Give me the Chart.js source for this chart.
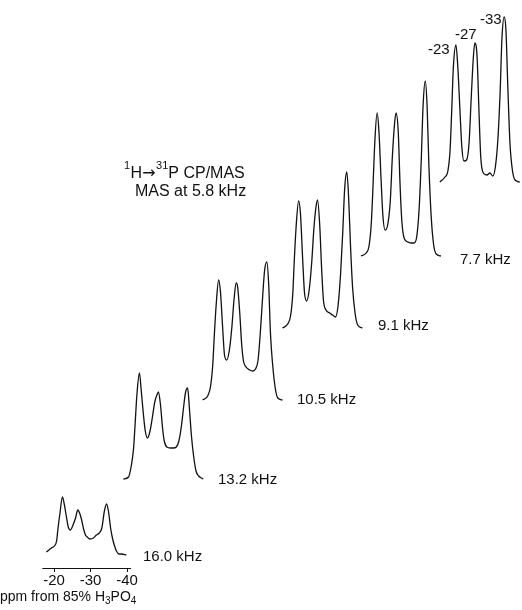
<!DOCTYPE html>
<html>
<head>
<meta charset="utf-8">
<script src="https://cdn.jsdelivr.net/npm/chart.js@4.4.1/dist/chart.umd.min.js"></script>
<style>
  html, body { margin: 0; padding: 0; background: #fff; }
  #wrap { width: 522px; height: 610px; position: relative; }
</style>
</head>
<body>
<div id="wrap"><canvas id="nmr"></canvas></div>
<script>
// chemical shift sampling points (ppm), shared by every trace
const shift = [-17.9, -19.3, -20.1, -20.7, -21.1, -21.6, -22.3, -22.8, -23.4, -23.9, -24.5, -25.2,
  -25.9, -26.5, -27.1, -27.5, -28.1, -28.6, -29.1, -29.8, -30.8, -31.6, -32.4, -33.1, -33.8,
  -34.4, -34.9, -35.5, -36.0, -36.5, -37.1, -37.8, -38.5, -39.8];

// intensities (a.u., baseline = 0)
const s16_0 = [0, 4, 6, 11, 24, 38, 55, 48, 35, 25, 22, 27, 34, 42, 38, 33, 23, 17, 15, 13, 14, 17, 19, 24, 41, 48, 41, 24, 14, 7, 1, -2, -2, -3];
const s13_2 = [0, 2, 14, 31, 54, 84, 106, 88, 64, 48, 41, 48, 63, 77, 84, 87, 73, 52, 38, 32, 31, 31, 32, 38, 53, 72, 86, 91, 70, 45, 24, 8, 3, 0];
const s10_5 = [0, 4, 14, 36, 64, 94, 120, 108, 72, 45, 40, 49, 72, 100, 117, 113, 86, 56, 39, 33, 30, 29, 31, 40, 72, 106, 130, 138, 116, 66, 35, 12, 2, 0];
const s9_1 = [0, 4, 12, 34, 66, 100, 127, 115, 70, 36, 27, 38, 66, 100, 122, 128, 102, 60, 28, 18, 15, 13, 11, 22, 54, 96, 138, 156, 131, 84, 40, 14, 3, 0];
const s7_7 = [0, 3, 10, 32, 62, 108, 143, 125, 76, 40, 26, 31, 54, 100, 133, 143, 124, 71, 34, 17, 14, 13, 13, 18, 46, 96, 150, 175, 150, 90, 41, 11, 2, 0];
const s5_8 = [0, 5, 11, 32, 67, 115, 137, 116, 72, 36, 21, 22, 39, 85, 126, 139, 125, 72, 25, 9, 7, 9, 6, 15, 43, 89, 143, 165, 152, 97, 39, 11, 2, 0];

const spinRates = ['16.0 kHz', '13.2 kHz', '10.5 kHz', '9.1 kHz', '7.7 kHz', '5.8 kHz'];
const spectra = [s16_0, s13_2, s10_5, s9_1, s7_7, s5_8];

// waterfall offsets of each trace
const xOffsets = [0, -21.1, -42.8, -64.7, -86.2, -107.8];
const yOffsets = [0, 73, 152, 224, 296, 370];

const axisTicks = [-20, -30, -40];
const peakLabels = ['-23', '-27', '-33'];

const FONT = '"Liberation Sans", Arial, Helvetica, sans-serif';
const INK = '#111';

const annotations = {
  id: 'annotations',
  afterDraw(chart) {
    const { ctx, chartArea } = chart;
    const x = chart.scales.x;
    ctx.save();
    // short ppm axis under the lowest trace
    ctx.strokeStyle = INK;
    ctx.lineWidth = 1.2;
    ctx.beginPath();
    ctx.moveTo(x.getPixelForValue(-16.8), chartArea.bottom + 0.5);
    ctx.lineTo(x.getPixelForValue(-41.1), chartArea.bottom + 0.5);
    ctx.stroke();

    ctx.fillStyle = INK;
    ctx.textBaseline = 'middle';
    ctx.textAlign = 'left';
    const txt = (s, px, py, size, family) => {
      ctx.font = size + 'px ' + (family || FONT);
      ctx.fillText(s, px, py);
      return px + ctx.measureText(s).width;
    };

    let cx = txt('1', 124, 166, 11);
    cx = txt('H', cx + 0.5, 174, 16);
    cx = txt('\u2192', cx, 174, 16, '"DejaVu Sans", sans-serif');
    cx = txt('31', cx + 0.5, 166, 11);
    txt('P CP/MAS', cx, 174, 16);
    txt('MAS at 5.8 kHz', 135, 192, 16);

    cx = txt('ppm from 85% H', 0, 597, 14);
    cx = txt('3', cx, 601, 10);
    cx = txt('PO', cx, 597, 14);
    txt('4', cx, 601, 10);

    const ratePos = [[143, 557], [218, 480], [297, 400], [378, 326], [460, 260]];
    ratePos.forEach((p, i) => txt(spinRates[i], p[0], p[1], 15));

    const peakPos = [[428, 50], [455, 35], [480, 20]];
    peakPos.forEach((p, i) => txt(peakLabels[i], p[0], p[1], 15));
    ctx.restore();
  }
};

new Chart(document.getElementById('nmr'), {
  type: 'scatter',
  data: {
    datasets: spectra.map((vals, k) => ({
      label: spinRates[k],
      data: shift.map((s, i) => ({ x: s + xOffsets[k], y: vals[i] + yOffsets[k] })),
      showLine: true,
      borderColor: INK,
      borderWidth: 1.3,
      pointRadius: 0,
      cubicInterpolationMode: 'monotone',
      fill: false
    }))
  },
  options: {
    responsive: true,
    maintainAspectRatio: false,
    animation: false,
    layout: { padding: { left: 0, right: 0, top: 0, bottom: 20 } },
    plugins: { legend: { display: false }, tooltip: { enabled: false } },
    scales: {
      x: {
        type: 'linear',
        reverse: true,
        min: -148.2,
        max: -5.2,
        afterBuildTicks: (axis) => { axis.ticks = axisTicks.map(v => ({ value: v })); },
        ticks: {
          autoSkip: false,
          maxRotation: 0,
          padding: 0,
          color: INK,
          font: { family: FONT, size: 15 },
          callback: (v) => String(v)
        },
        grid: { drawOnChartArea: false, drawTicks: true, tickLength: 4, color: INK, lineWidth: 1 },
        border: { display: false }
      },
      y: { display: false, min: -16, max: 552 }
    }
  },
  plugins: [annotations]
});
</script>
</body>
</html>
